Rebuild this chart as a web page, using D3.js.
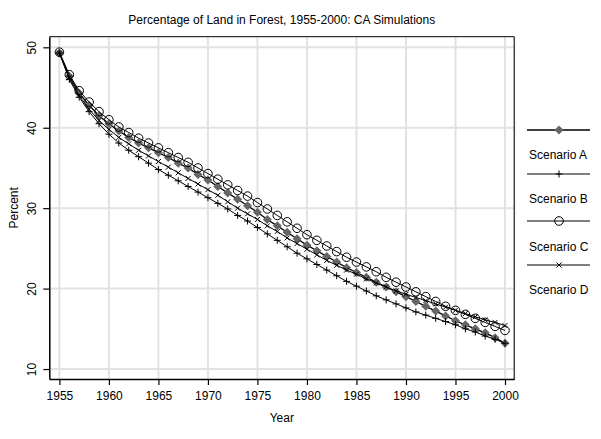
<!DOCTYPE html>
<html><head><meta charset="utf-8">
<script src="https://cdn.jsdelivr.net/npm/d3@7"></script>
<style>
body{margin:0;background:#fff;}
text{font-family:"Liberation Sans",Arial,sans-serif;fill:#000;}
</style></head>
<body><svg id="c" width="601" height="439"></svg>
<script>
const years = d3.range(1955, 2001);
const scenarioA = [49.3,46.4,44.3,42.8,41.5,40.5,39.6,38.8,38.1,37.5,36.9,36.3,35.6,35.0,34.2,33.5,32.7,31.9,31.1,30.3,29.5,28.6,27.8,27.0,26.2,25.4,24.7,24.0,23.3,22.6,22.0,21.4,20.8,20.2,19.6,19.0,18.4,17.8,17.2,16.6,16.0,15.5,15.0,14.5,13.9,13.2];
const scenarioB = [49.3,46.0,43.8,42.0,40.5,39.2,38.1,37.2,36.4,35.6,34.8,34.1,33.4,32.7,32.0,31.3,30.6,29.9,29.1,28.4,27.6,26.8,26.0,25.2,24.4,23.7,23.0,22.3,21.6,20.9,20.3,19.7,19.1,18.6,18.1,17.6,17.1,16.7,16.3,15.9,15.5,15.0,14.6,14.1,13.7,13.2];
const scenarioC = [49.4,46.6,44.6,43.2,42.0,41.0,40.1,39.4,38.7,38.1,37.5,36.9,36.3,35.7,35.0,34.3,33.6,32.9,32.2,31.5,30.7,29.9,29.1,28.3,27.5,26.7,26.0,25.3,24.6,23.9,23.3,22.7,22.1,21.4,20.8,20.2,19.6,19.0,18.4,17.8,17.3,16.8,16.3,15.8,15.3,14.8];
const scenarioD = [49.3,46.2,44.0,42.3,40.9,39.8,38.8,38.0,37.2,36.5,35.8,35.1,34.4,33.7,33.0,32.3,31.6,30.8,30.0,29.3,28.6,27.8,27.1,26.3,25.6,24.9,24.2,23.5,22.9,22.3,21.8,21.2,20.7,20.2,19.7,19.3,18.9,18.5,18.1,17.7,17.3,16.9,16.5,16.1,15.8,15.4];
const seriesNames = ["Scenario A","Scenario B","Scenario C","Scenario D"];
const xTicks = [1955,1960,1965,1970,1975,1980,1985,1990,1995,2000];
const yTicks = [10,20,30,40,50];
const title = "Percentage of Land in Forest, 1955-2000: CA Simulations";

const svg = d3.select("#c");
const L = 49.3, R = 514.3, T = 36.7, B = 379;
const x = d3.scaleLinear().domain([1953.98, 2000.94]).range([L, R]);
const y = d3.scaleLinear().domain([8.76, 51.32]).range([B, T]);

svg.append("rect").attr("width",601).attr("height",439).attr("fill","#fff");

// grid
const g = svg.append("g");
g.selectAll(".gx").data(xTicks).join("line")
  .attr("x1",d=>x(d)).attr("x2",d=>x(d)).attr("y1",T).attr("y2",B)
  .attr("stroke","#e2e2e2").attr("stroke-width",2);
g.selectAll(".gy").data(yTicks).join("line")
  .attr("y1",d=>y(d)).attr("y2",d=>y(d)).attr("x1",L).attr("x2",R)
  .attr("stroke","#e2e2e2").attr("stroke-width",2);

// frame
svg.append("line").attr("x1",L).attr("x2",R).attr("y1",T).attr("y2",T).attr("stroke","#000").attr("stroke-width",1);
svg.append("line").attr("x1",R).attr("x2",R).attr("y1",T).attr("y2",B).attr("stroke","#444").attr("stroke-width",1.5);

// axes
const xAxis = svg.append("g").attr("transform",`translate(0,${B})`)
  .call(d3.axisBottom(x).tickValues(xTicks).tickFormat(d3.format("d")).tickSize(6).tickPadding(6).tickSizeOuter(0));
const yAxis = svg.append("g").attr("transform",`translate(${L},0)`)
  .call(d3.axisLeft(y).tickValues(yTicks).tickSize(6).tickSizeOuter(0));
[xAxis,yAxis].forEach(a=>{
  a.select(".domain").attr("stroke","#000").attr("stroke-width",1.5);
  a.selectAll(".tick line").attr("stroke","#000").attr("stroke-width",1.2);
  a.selectAll("text").style("font-size","12px").style("font-family","'Liberation Sans',Arial,sans-serif");
});
yAxis.selectAll(".tick text").attr("transform","rotate(-90)").attr("x",0).attr("y",-13).attr("dy",0).attr("text-anchor","middle");

// titles
svg.append("text").attr("x",(L+R)/2).attr("y",24).attr("text-anchor","middle").style("font-size","12px").text(title);
svg.append("text").attr("x",(L+R)/2).attr("y",422).attr("text-anchor","middle").style("font-size","12px").text("Year");
svg.append("text").attr("transform",`translate(18,${(T+B)/2}) rotate(-90)`).attr("text-anchor","middle").style("font-size","12px").text("Percent");

// marker drawers
function marker(sel, type){
  if(type==="diamond"){
    sel.append("path").attr("d","M0,-4.5L4.5,0L0,4.5L-4.5,0Z").attr("fill","#666");
  } else if(type==="plus"){
    sel.append("path").attr("d","M-3.5,0H3.5M0,-3.5V3.5").attr("stroke","#000").attr("stroke-width",1).attr("fill","none");
  } else if(type==="circle"){
    sel.append("circle").attr("r",4.3).attr("fill","none").attr("stroke","#000").attr("stroke-width",1);
  } else {
    sel.append("path").attr("d","M-2.5,-2.5L2.5,2.5M-2.5,2.5L2.5,-2.5").attr("stroke","#000").attr("stroke-width",1).attr("fill","none");
  }
}
const series = [
  {name:seriesNames[0], values:scenarioA, m:"diamond", w:1.3},
  {name:seriesNames[1], values:scenarioB, m:"plus", w:1},
  {name:seriesNames[2], values:scenarioC, m:"circle", w:1},
  {name:seriesNames[3], values:scenarioD, m:"x", w:1}
];
const line = d3.line().x((d,i)=>x(years[i])).y(d=>y(d));
series.forEach(s=>{
  const sg = svg.append("g");
  sg.append("path").attr("d",line(s.values)).attr("fill","none").attr("stroke","#000").attr("stroke-width",s.w);
  s.values.forEach((v,i)=>{
    const mg = sg.append("g").attr("transform",`translate(${x(years[i])},${y(v)})`);
    marker(mg, s.m);
  });
});

// legend
const legKeyY = [130,174,221,265];
const legLabY = [159,203,251,294];
series.forEach((s,i)=>{
  const lg = svg.append("g");
  lg.append("line").attr("x1",527).attr("x2",590).attr("y1",legKeyY[i]).attr("y2",legKeyY[i]).attr("stroke","#000").attr("stroke-width",s.w);
  marker(lg.append("g").attr("transform",`translate(559,${legKeyY[i]})`), s.m);
  lg.append("text").attr("x",529).attr("y",legLabY[i]).style("font-size","12px").text(s.name);
});
</script></body></html>
